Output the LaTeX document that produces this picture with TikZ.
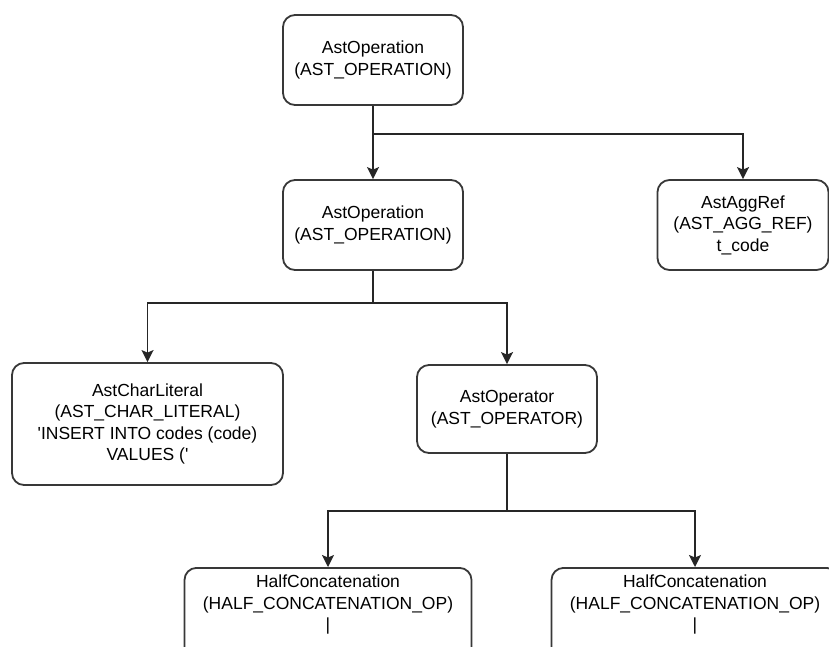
\documentclass[tikz,border=0pt]{standalone}
\usepackage{fontspec}
\usetikzlibrary{arrows.meta}
\newfontfamily\labelfont{Liberation Sans}

\tikzset{
  astbox/.style={draw=black!78, line width=1.8pt, rounded corners=12pt, fill=white,
    align=center, inner sep=4pt, font=\labelfont\fontsize{17.5}{21.5}\selectfont},
  link/.style={draw=black!85, line width=1.7pt},
  arrowlink/.style={link, -{Stealth[length=12pt, width=12pt, inset=2.5pt]}},
  plaintext/.style={align=center, inner sep=0pt, font=\labelfont\fontsize{17.5}{21.5}\selectfont}
}

\begin{document}
\begin{tikzpicture}[x=1pt, y=-1pt]
\useasboundingbox (0,0) rectangle (829,646);
\clip (0,0) rectangle (829,646);

% tree nodes
\node[astbox, minimum width=180pt, minimum height=90pt] (op1) at (373,60)
  {AstOperation\\(AST\_OPERATION)};
\node[astbox, minimum width=180pt, minimum height=90pt] (op2) at (373,225)
  {AstOperation\\(AST\_OPERATION)};
\node[astbox, minimum width=171pt, minimum height=90pt] (agg) at (743,225)
  {AstAggRef\\(AST\_AGG\_REF)\\t\_code};
\node[astbox, minimum width=271pt, minimum height=122pt] (chr) at (147.5,424)
  {AstCharLiteral\\(AST\_CHAR\_LITERAL)\\'INSERT INTO codes (code)\\VALUES ('};
\node[astbox, minimum width=180pt, minimum height=88pt] (opr) at (507,409)
  {AstOperator\\(AST\_OPERATOR)};

% leaf boxes run past the lower edge
\node[astbox, minimum width=287pt, minimum height=120pt, anchor=north] (h1) at (328,567) {};
\node[plaintext] (h1t) at ([yshift=-38pt]h1.north)
  {HalfConcatenation\\(HALF\_CONCATENATION\_OP)\\|};
\node[astbox, minimum width=287pt, minimum height=120pt, anchor=north] (h2) at (695,567) {};
\node[plaintext] (h2t) at ([yshift=-38pt]h2.north)
  {HalfConcatenation\\(HALF\_CONCATENATION\_OP)\\|};

% branch points
\coordinate (j1) at (373,134);
\coordinate (j2) at (373,303);
\coordinate (j3) at (507,511);

% connectors
\draw[link] (op1.south) -- (j1);
\draw[arrowlink] (j1) -- (op2.north);
\draw[arrowlink] (j1) -| (agg.north);

\draw[link] (op2.south) -- (j2);
\draw[arrowlink] (j2) -| (chr.north);
\draw[arrowlink] (j2) -| (opr.north);

\draw[link] (opr.south) -- (j3);
\draw[arrowlink] (j3) -| (h1.north);
\draw[arrowlink] (j3) -| (h2.north);
\end{tikzpicture}
\end{document}
